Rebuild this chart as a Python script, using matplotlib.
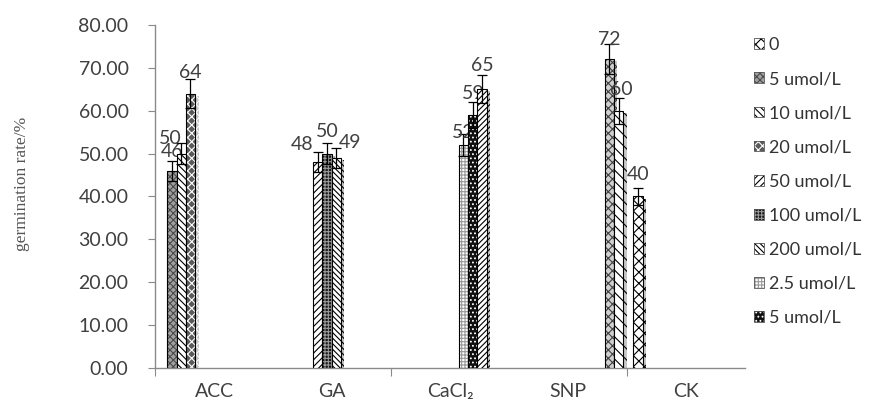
import matplotlib
matplotlib.use("Agg")
import matplotlib.pyplot as plt
from matplotlib.patches import Patch
from matplotlib.legend_handler import HandlerTuple
import matplotlib.patheffects as pe

# ---- data ----
categories = ["ACC", "GA", "CaCl₂", "SNP", "CK"]
series_names = ["0", "5 umol/L", "10 umol/L", "20 umol/L", "50 umol/L",
                "100 umol/L", "200 umol/L", "2.5 umol/L", "5 umol/L"]

bar_category = [0, 0, 0, 1, 1, 1, 2, 2, 2, 3, 3, 4]
bar_series = [1, 2, 3, 4, 5, 6, 7, 8, 9, 10, 11, 0]
bar_values = [46, 50, 64, 48, 50, 49, 52, 59, 65, 72, 60, 40]
bar_errors = [2.3, 2.5, 3.4, 2.3, 2.4, 2.4, 2.5, 3.0, 3.3, 3.5, 3.0, 2.0]

y_ticks = [0, 10, 20, 30, 40, 50, 60, 70, 80]

# ---- layout ----
bar_slot = [0, 1, 2, 3, 4, 5, 6, 7, 8, 9, 10, -0.65]
slot_start, slot_step, bar_width = -0.356, 0.0784, 0.08
# label offsets (points) relative to the default spot above each bar
label_shift = [(0, -1.5), (-8, -5), (0, -0.7), (-11, -3), (0, 0), (10, -4.5),
               (0, -6.5), (0, 0), (0, 1.5), (0, -1.5), (2, 0), (0, 0)]

# style per series: face colour, hatch colour, hatch pattern
styles = [
    ("white", "black", "xxx"),
    ("#a0a0a0", "#4a4a4a", "xxxxx"),
    ("white", "black", "\\\\\\\\\\"),
    ("#5a5a5a", "white", "xxxx"),
    ("white", "black", "/////"),
    ("#151515", "#9a9a9a", "+++++"),
    ("white", "black", "\\\\\\\\\\\\"),
    ("white", "#9a9a9a", "+++++"),
    ("#101010", "white", "...."),
    ("white", "black", "//////"),
    ("#d0d0d0", "#404040", "xxxx"),
    ("white", "black", "\\\\\\"),
]

txt_color = "#404040"
axis_color = "#8a8a8a"
fs = 14

plt.rcParams["hatch.linewidth"] = 0.8

fig = plt.figure(figsize=(8.77, 4.05), dpi=100)
ax = fig.add_axes([155 / 877, 1 - 368 / 405, 590 / 877, 343 / 405])

for i, (c, s, v, e) in enumerate(zip(bar_category, bar_series, bar_values, bar_errors)):
    face, hcol, hatch = styles[s]
    x = c + slot_start + slot_step * bar_slot[i]
    z = 2 + i
    ax.bar(x, v, bar_width, color=face, edgecolor=hcol, linewidth=0,
           hatch=hatch, zorder=z,
           path_effects=[pe.SimplePatchShadow(offset=(2.5, -1.5), shadow_rgbFace="k",
                                              alpha=0.22), pe.Normal()])
    ax.bar(x, v, bar_width, fill=False, edgecolor="black", linewidth=0.8,
           zorder=z + 0.1)
    ax.errorbar(x, v, yerr=e, fmt="none", ecolor="black", elinewidth=0.9,
                capsize=3.5, capthick=0.9, zorder=z + 0.2)
    dx, dy = label_shift[i]
    ax.annotate(f"{v}", (x, v), xytext=(dx, 9.5 + dy), textcoords="offset points",
                ha="center", va="bottom", fontsize=fs, color=txt_color,
                family="Lato", zorder=z + 0.3)

ax.set_xlim(-0.5, 4.5)
ax.set_ylim(0, 80)
ax.set_yticks(y_ticks)
ax.set_yticklabels([f"{t:.2f}" for t in y_ticks], fontsize=fs, color=txt_color,
                   family="Lato")
ax.set_xticks([-0.5, 1.5, 3.5])
ax.set_xticklabels([])
ax.set_xticks(range(len(categories)), minor=True)
ax.set_xticklabels(categories, minor=True, fontsize=fs, color=txt_color,
                   family=["Lato", "DejaVu Sans"])
ax.tick_params(axis="x", which="minor", length=0, pad=11)
ax.tick_params(axis="x", which="major", length=6, color=axis_color, direction="out")
ax.tick_params(axis="y", length=5, color=axis_color, pad=14)

for side in ("top", "right"):
    ax.spines[side].set_visible(False)
for side in ("left", "bottom"):
    ax.spines[side].set_color(axis_color)
    ax.spines[side].set_linewidth(1.0)

fig.text(22 / 877, 1 - 184 / 405, "germination rate/%", rotation=90,
         ha="center", va="center", fontsize=12.5, color="#555555",
         family="Liberation Serif")

handles = []
for k in range(len(series_names)):
    face, hcol, hatch = styles[k]
    handles.append((Patch(facecolor=face, edgecolor=hcol, linewidth=0, hatch=hatch),
                    Patch(fill=False, edgecolor="#555555", linewidth=0.6)))
fig.legend(handles, series_names, handler_map={tuple: HandlerTuple(ndivide=1)},
           loc="upper left", bbox_to_anchor=(738 / 877, 1 - 21 / 405),
           frameon=False, handlelength=0.55, handleheight=0.55, handletextpad=0.25,
           labelspacing=1.0, prop={"family": "Lato", "size": 13}, labelcolor="#333333")

fig.savefig("out.png", dpi=100)
